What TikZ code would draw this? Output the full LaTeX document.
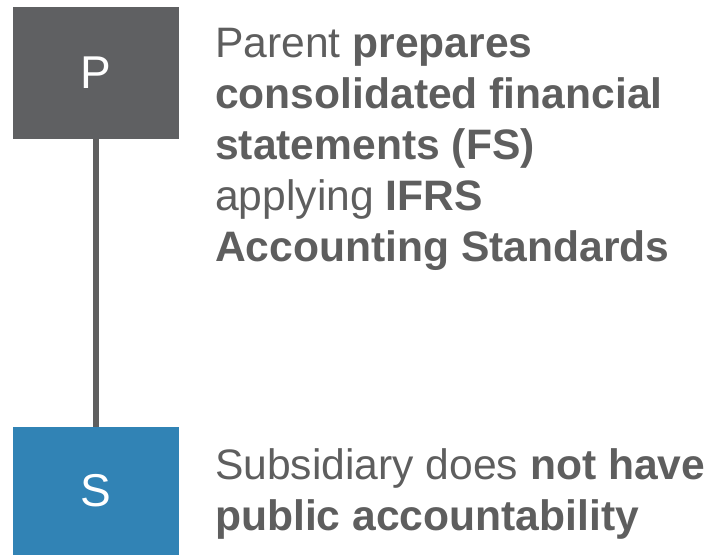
\documentclass[tikz,border=0pt]{standalone}
\usepackage{fontspec}
\setmainfont{Liberation Sans}
\definecolor{pgrey}{HTML}{5F6062}
\definecolor{sblue}{HTML}{3183B5}
\definecolor{txtgrey}{HTML}{5E5E5E}
\definecolor{linegrey}{HTML}{5F5F5F}
\tikzset{
  entity/.style={fill=#1, draw=none, minimum width=166bp, inner sep=0pt, text=white,
    font=\fontsize{46bp}{52bp}\selectfont},
  desc/.style={anchor=base west, inner sep=0pt, align=left, text=txtgrey,
    font=\fontsize{42.6bp}{51bp}\selectfont},
  link/.style={draw=linegrey, line width=6bp}
}
\begin{document}
\begin{tikzpicture}[x=1bp,y=-1bp]
\useasboundingbox (0,0) rectangle (711,555);
\node[entity=pgrey, minimum height=132bp] (P) at (96,73) {P};
\node[entity=sblue, minimum height=128bp] (S) at (96,491) {S};
\draw[link] (P.south) -- (S.north);
\node[desc] (tp) at (215,262) {Parent \textbf{prepares}\\\textbf{consolidated financial}\\\textbf{statements (FS)}\\applying \textbf{IFRS}\\\textbf{Accounting Standards}};
\node[desc] (ts) at (215,530) {Subsidiary does \textbf{not have}\\\textbf{public accountability}};
\end{tikzpicture}
\end{document}
